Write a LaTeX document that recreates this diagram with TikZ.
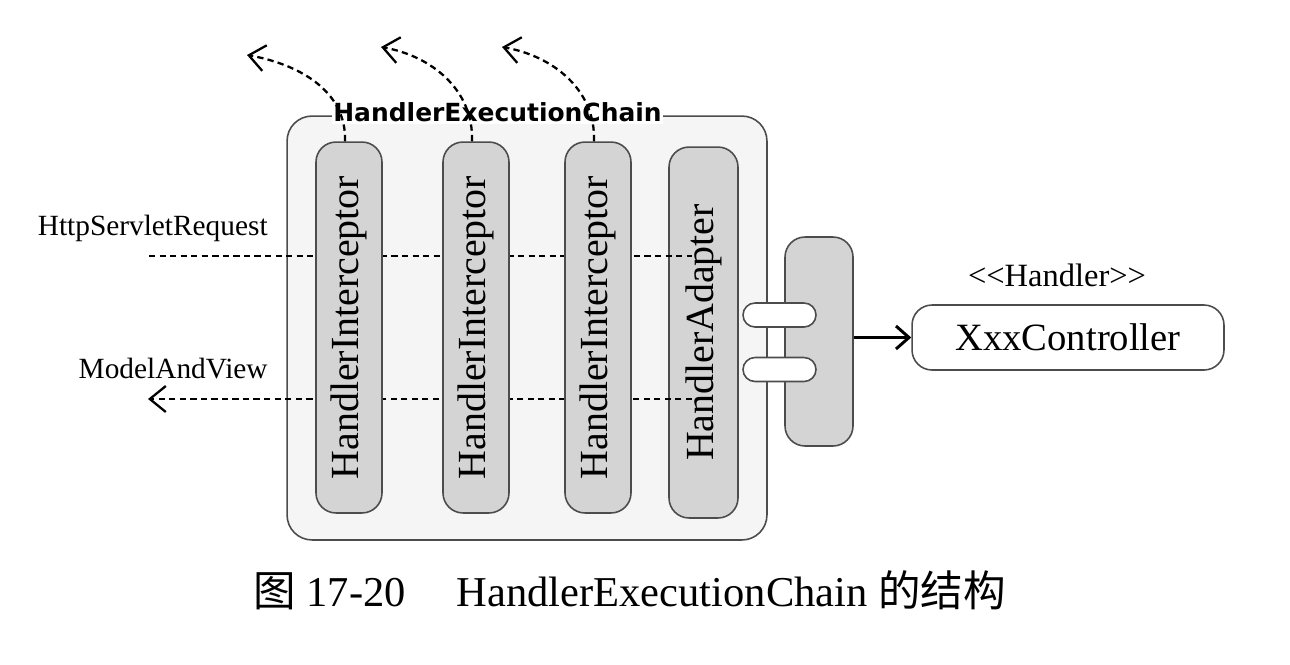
\documentclass[tikz,border=0pt]{standalone}
\usepackage{fontspec}
\setmainfont{Liberation Serif}
\newfontfamily\titlefont{DejaVu Sans}
\newfontfamily\cjk{Noto Sans CJK SC}
\usetikzlibrary{arrows.meta}
\usetikzlibrary{positioning}
\tikzstyle{pointille} = [dash pattern=on 3.6pt off 2.4pt, line width=1.3pt]
\tikzstyle{retour} = [pointille, -{Straight Barb[length=3.2mm,width=5.2mm,line width=1.3pt]}]
\tikzstyle{fleche} = [-{Straight Barb[length=2.6mm,width=4.6mm]}, line width=1.7pt]
\tikzstyle{boite} = [draw=black!70, line width=0.9pt, rounded corners=0.4cm, inner sep=0pt]
\tikzstyle{barre} = [boite, fill=black!17, rotate=90, minimum width=7.42cm, minimum height=1.32cm, font=\fontsize{22.7}{24}\selectfont]
\tikzstyle{anneau} = [boite, fill=white, rounded corners=0.24cm, minimum width=1.46cm, minimum height=0.48cm]
\tikzstyle{etiquette} = [inner sep=0pt, font=\fontsize{16.7}{18}\selectfont]

\begin{document}
\begin{tikzpicture}[x=0.02cm, y=0.02cm]
\useasboundingbox (0,0) rectangle (1290,-664);

%% Le cadre et l'adapter
	\node[boite, fill=black!4, rounded corners=0.5cm, minimum width=9.6cm, minimum height=8.48cm] (chaine) at (527,-328) {};
	\node[barre, minimum height=1.38cm] (HA) at (703.5,-332.5) {HandlerAdapter};

%% Requete et ModelAndView
	\node[etiquette, anchor=east] (req) at (268,-228) {HttpServletRequest};
	\coordinate (req_in) at (149,-256);
	\coordinate (req_fin) at (692,-256);
	\draw[pointille] (req_in) -- (req_fin);

	\node[etiquette, anchor=east] (mav) at (268,-369) {ModelAndView};
	\coordinate (mav_fin) at (692,-399);
	\coordinate (mav_out) at (148,-399);
	\draw[retour] (mav_fin) -- (mav_out);

%% Les intercepteurs
	\foreach \i/\x in {1/349, 2/476, 3/598}
		\node[barre] (I\i) at (\x,-327.5) {HandlerInterceptor};

	\node[fill=white, inner sep=1pt, font=\titlefont\bfseries\fontsize{14.2}{16}\selectfont] (titre) at (497.5,-112.5) {HandlerExecutionChain};

%% Retours vers le haut
	\foreach \i/\x/\y in {1/247/55, 2/381/47, 3/502/47} {
		\coordinate (R\i) at (\x,-\y);
		\draw[retour] ([xshift=-0.08cm]I\i.east) to[out=88, in=-10] (R\i);
	}

%% La prise et le controleur
	\node[boite, fill=black!17, minimum width=1.36cm, minimum height=4.18cm] (prise) at (819,-341.5) {};
	\node[anneau] (anneau1) at (779.5,-315) {};
	\node[anneau] (anneau2) at (779.5,-369.5) {};

	\node[boite, fill=white, minimum width=6.24cm, minimum height=1.3cm, font=\fontsize{22}{24}\selectfont] (ctrl) at (1068,-337.5) {XxxController};
	\node[etiquette, font=\fontsize{18.5}{20}\selectfont, above=0.34cm of ctrl, xshift=-0.22cm] (stereo) {<\kern0pt<Handler>\kern0pt>};
	\draw[fleche] (prise.east |- ctrl.west) -- (ctrl.west);

%% Legende
	\node[inner sep=0pt, anchor=west, font=\fontsize{24.2}{26}\selectfont] (legende) at (253,-590) {{\cjk 图} 17-20\hspace{1.2em}HandlerExecutionChain {\cjk 的结构}};

\end{tikzpicture}
\end{document}
